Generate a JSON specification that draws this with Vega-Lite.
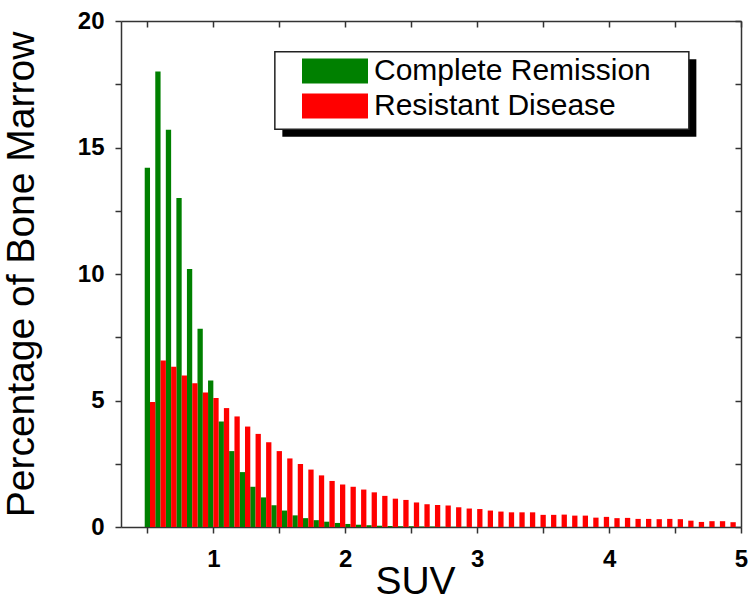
{
  "$schema": "https://vega.github.io/schema/vega-lite/v6.json",
  "width": 620,
  "height": 506,
  "autosize": {"type": "none"},
  "padding": {"left": 121, "top": 21, "right": 9, "bottom": 75},
  "background": "white",
  "config": {
    "view": {"stroke": null},
    "axis": {
      "domainColor": "#333333",
      "domainWidth": 1.5,
      "tickColor": "#333333",
      "tickWidth": 1.5,
      "tickSize": 6,
      "grid": false,
      "labelFont": "Liberation Sans",
      "labelFontWeight": "bold",
      "labelFontSize": 24,
      "labelColor": "black",
      "labelFlush": false,
      "labelOverlap": false,
      "titleFont": "Liberation Sans",
      "titleFontWeight": "normal",
      "titleFontSize": 39,
      "titleColor": "black"
    }
  },
  "data": {
    "values": [
      {"suv": 0.52, "group": "Complete Remission", "pct": 14.2},
      {"suv": 0.60, "group": "Complete Remission", "pct": 18.0},
      {"suv": 0.68, "group": "Complete Remission", "pct": 15.7},
      {"suv": 0.76, "group": "Complete Remission", "pct": 13.0},
      {"suv": 0.84, "group": "Complete Remission", "pct": 10.2},
      {"suv": 0.92, "group": "Complete Remission", "pct": 7.84},
      {"suv": 1.00, "group": "Complete Remission", "pct": 5.79},
      {"suv": 1.08, "group": "Complete Remission", "pct": 4.17},
      {"suv": 1.16, "group": "Complete Remission", "pct": 3.0},
      {"suv": 1.24, "group": "Complete Remission", "pct": 2.17},
      {"suv": 1.32, "group": "Complete Remission", "pct": 1.59},
      {"suv": 1.40, "group": "Complete Remission", "pct": 1.17},
      {"suv": 1.48, "group": "Complete Remission", "pct": 0.86},
      {"suv": 1.56, "group": "Complete Remission", "pct": 0.65},
      {"suv": 1.64, "group": "Complete Remission", "pct": 0.46},
      {"suv": 1.72, "group": "Complete Remission", "pct": 0.35},
      {"suv": 1.80, "group": "Complete Remission", "pct": 0.27},
      {"suv": 1.88, "group": "Complete Remission", "pct": 0.21},
      {"suv": 1.96, "group": "Complete Remission", "pct": 0.16},
      {"suv": 2.04, "group": "Complete Remission", "pct": 0.12},
      {"suv": 2.12, "group": "Complete Remission", "pct": 0.09},
      {"suv": 2.20, "group": "Complete Remission", "pct": 0.07},
      {"suv": 2.28, "group": "Complete Remission", "pct": 0.05},
      {"suv": 2.36, "group": "Complete Remission", "pct": 0.04},
      {"suv": 2.44, "group": "Complete Remission", "pct": 0.03},
      {"suv": 2.52, "group": "Complete Remission", "pct": 0.03},
      {"suv": 2.60, "group": "Complete Remission", "pct": 0.02},
      {"suv": 2.68, "group": "Complete Remission", "pct": 0.02},
      {"suv": 2.76, "group": "Complete Remission", "pct": 0.01},
      {"suv": 2.84, "group": "Complete Remission", "pct": 0.01},
      {"suv": 2.92, "group": "Complete Remission", "pct": 0.01},
      {"suv": 0.52, "group": "Resistant Disease", "pct": 4.94},
      {"suv": 0.60, "group": "Resistant Disease", "pct": 6.58},
      {"suv": 0.68, "group": "Resistant Disease", "pct": 6.33},
      {"suv": 0.76, "group": "Resistant Disease", "pct": 5.99},
      {"suv": 0.84, "group": "Resistant Disease", "pct": 5.68},
      {"suv": 0.92, "group": "Resistant Disease", "pct": 5.32},
      {"suv": 1.00, "group": "Resistant Disease", "pct": 5.10},
      {"suv": 1.08, "group": "Resistant Disease", "pct": 4.70},
      {"suv": 1.16, "group": "Resistant Disease", "pct": 4.37},
      {"suv": 1.24, "group": "Resistant Disease", "pct": 3.97},
      {"suv": 1.32, "group": "Resistant Disease", "pct": 3.68},
      {"suv": 1.40, "group": "Resistant Disease", "pct": 3.35},
      {"suv": 1.48, "group": "Resistant Disease", "pct": 3.00},
      {"suv": 1.56, "group": "Resistant Disease", "pct": 2.71},
      {"suv": 1.64, "group": "Resistant Disease", "pct": 2.49},
      {"suv": 1.72, "group": "Resistant Disease", "pct": 2.27},
      {"suv": 1.80, "group": "Resistant Disease", "pct": 2.04},
      {"suv": 1.88, "group": "Resistant Disease", "pct": 1.82},
      {"suv": 1.96, "group": "Resistant Disease", "pct": 1.68},
      {"suv": 2.04, "group": "Resistant Disease", "pct": 1.59},
      {"suv": 2.12, "group": "Resistant Disease", "pct": 1.48},
      {"suv": 2.20, "group": "Resistant Disease", "pct": 1.37},
      {"suv": 2.28, "group": "Resistant Disease", "pct": 1.23},
      {"suv": 2.36, "group": "Resistant Disease", "pct": 1.12},
      {"suv": 2.44, "group": "Resistant Disease", "pct": 1.07},
      {"suv": 2.52, "group": "Resistant Disease", "pct": 0.97},
      {"suv": 2.60, "group": "Resistant Disease", "pct": 0.90},
      {"suv": 2.68, "group": "Resistant Disease", "pct": 0.87},
      {"suv": 2.76, "group": "Resistant Disease", "pct": 0.85},
      {"suv": 2.84, "group": "Resistant Disease", "pct": 0.78},
      {"suv": 2.92, "group": "Resistant Disease", "pct": 0.73},
      {"suv": 3.00, "group": "Resistant Disease", "pct": 0.71},
      {"suv": 3.08, "group": "Resistant Disease", "pct": 0.65},
      {"suv": 3.16, "group": "Resistant Disease", "pct": 0.61},
      {"suv": 3.24, "group": "Resistant Disease", "pct": 0.58},
      {"suv": 3.32, "group": "Resistant Disease", "pct": 0.58},
      {"suv": 3.40, "group": "Resistant Disease", "pct": 0.58},
      {"suv": 3.48, "group": "Resistant Disease", "pct": 0.48},
      {"suv": 3.56, "group": "Resistant Disease", "pct": 0.48},
      {"suv": 3.64, "group": "Resistant Disease", "pct": 0.49},
      {"suv": 3.72, "group": "Resistant Disease", "pct": 0.45},
      {"suv": 3.80, "group": "Resistant Disease", "pct": 0.45},
      {"suv": 3.88, "group": "Resistant Disease", "pct": 0.37},
      {"suv": 3.96, "group": "Resistant Disease", "pct": 0.40},
      {"suv": 4.04, "group": "Resistant Disease", "pct": 0.35},
      {"suv": 4.12, "group": "Resistant Disease", "pct": 0.36},
      {"suv": 4.20, "group": "Resistant Disease", "pct": 0.32},
      {"suv": 4.28, "group": "Resistant Disease", "pct": 0.32},
      {"suv": 4.36, "group": "Resistant Disease", "pct": 0.31},
      {"suv": 4.44, "group": "Resistant Disease", "pct": 0.32},
      {"suv": 4.52, "group": "Resistant Disease", "pct": 0.31},
      {"suv": 4.60, "group": "Resistant Disease", "pct": 0.25},
      {"suv": 4.68, "group": "Resistant Disease", "pct": 0.20},
      {"suv": 4.76, "group": "Resistant Disease", "pct": 0.23},
      {"suv": 4.84, "group": "Resistant Disease", "pct": 0.23},
      {"suv": 4.92, "group": "Resistant Disease", "pct": 0.19}
    ]
  },
  "layer": [
    {
      "transform": [{"filter": "false"}],
      "mark": {"type": "bar"},
      "encoding": {
        "x": {
          "field": "suv", "type": "quantitative",
          "scale": {"domain": [0.3, 5], "nice": false, "zero": false, "padding": 0},
          "axis": {"orient": "top", "title": null, "labels": false, "tickSize": -6,
                   "values": [0.5, 1, 1.5, 2, 2.5, 3, 3.5, 4, 4.5, 5]}
        },
        "y": {
          "field": "pct", "type": "quantitative",
          "scale": {"domain": [0, 20], "nice": false, "padding": 0},
          "axis": {"orient": "right", "title": null, "labels": false, "tickSize": -6,
                   "values": [0, 2.5, 5, 7.5, 10, 12.5, 15, 17.5, 20]}
        },
        "fill": {
          "field": "group", "type": "nominal",
          "scale": {"domain": ["Resistant Disease"], "range": ["black"]},
          "legend": {
            "orient": "none", "legendX": 161, "legendY": 38, "title": null, "padding": 0, "zindex": 0,
            "symbolType": "M-5.356,-1H5.356V1H-5.356Z", "symbolSize": 5975, "symbolStrokeWidth": 0,
            "symbolOffset": 168.35, "labelOffset": 0, "labelFontSize": 1, "labelExpr": "''"
          }
        }
      }
    },
    {
      "transform": [{"filter": "false"}],
      "mark": {"type": "bar", "fill": "white"},
      "encoding": {
        "x": {"field": "suv", "type": "quantitative", "axis": null},
        "y": {"field": "pct", "type": "quantitative", "axis": null},
        "stroke": {
          "field": "group", "type": "nominal",
          "scale": {"domain": ["Complete Remission"], "range": ["#222222"]},
          "legend": {
            "orient": "none", "legendX": 153, "legendY": 30, "title": null, "padding": 0, "zindex": 1,
            "symbolType": "M-5.356,-1H5.356V1H-5.356Z", "symbolSize": 5975,
            "symbolFillColor": "white", "symbolStrokeColor": "#222222", "symbolStrokeWidth": 1.5,
            "symbolOffset": 168.35, "labelOffset": 0, "labelFontSize": 1, "labelExpr": "''"
          }
        }
      }
    },
    {
      "transform": [{"filter": "datum.group === 'Complete Remission'"}],
      "mark": {"type": "bar", "width": 5.3, "xOffset": -2.65},
      "encoding": {
        "x": {
          "field": "suv", "type": "quantitative",
          "scale": {"domain": [0.3, 5], "nice": false, "zero": false, "padding": 0},
          "axis": {"orient": "bottom", "title": "SUV", "labelPadding": 14,
                   "values": [0.5, 1, 1.5, 2, 2.5, 3, 3.5, 4, 4.5, 5],
                   "labelExpr": "datum.value % 1 === 0 ? format(datum.value, 'd') : ''",
                   "titleX": 294, "titleY": 66, "titleBaseline": "alphabetic"}
        },
        "y": {
          "field": "pct", "type": "quantitative",
          "scale": {"domain": [0, 20], "nice": false, "padding": 0},
          "axis": {"orient": "left", "title": "Percentage of Bone Marrow", "labelPadding": 11,
                   "values": [0, 2.5, 5, 7.5, 10, 12.5, 15, 17.5, 20],
                   "labelExpr": "datum.value % 5 === 0 ? format(datum.value, 'd') : ''",
                   "titleX": -100, "titleY": 253, "titleBaseline": "middle"}
        },
        "color": {
          "field": "group", "type": "nominal",
          "scale": {"domain": ["Complete Remission", "Resistant Disease"], "range": ["#008000", "#ff0000"]},
          "legend": {
            "orient": "none", "legendX": 153, "legendY": 30, "title": null, "padding": 5, "zindex": 2,
            "symbolType": "M-2.64,-1H2.64V1H-2.64Z", "symbolSize": 625, "symbolStrokeWidth": 0,
            "symbolOffset": 41, "labelOffset": 24, "labelFont": "Liberation Sans", "labelFontSize": 30,
            "labelLimit": 400, "labelColor": "black", "rowPadding": 5
          }
        }
      }
    },
    {
      "transform": [{"filter": "datum.group === 'Resistant Disease'"}],
      "mark": {"type": "bar", "width": 5.3, "xOffset": 2.65},
      "encoding": {
        "x": {"field": "suv", "type": "quantitative", "axis": null},
        "y": {"field": "pct", "type": "quantitative", "axis": null},
        "color": {
          "field": "group", "type": "nominal",
          "scale": {"domain": ["Complete Remission", "Resistant Disease"], "range": ["#008000", "#ff0000"]},
          "legend": {
            "orient": "none", "legendX": 153, "legendY": 30, "title": null, "padding": 5, "zindex": 2,
            "symbolType": "M-2.64,-1H2.64V1H-2.64Z", "symbolSize": 625, "symbolStrokeWidth": 0,
            "symbolOffset": 41, "labelOffset": 24, "labelFont": "Liberation Sans", "labelFontSize": 30,
            "labelLimit": 400, "labelColor": "black", "rowPadding": 5
          }
        }
      }
    }
  ],
  "resolve": {"axis": {"x": "independent", "y": "independent"}}
}
